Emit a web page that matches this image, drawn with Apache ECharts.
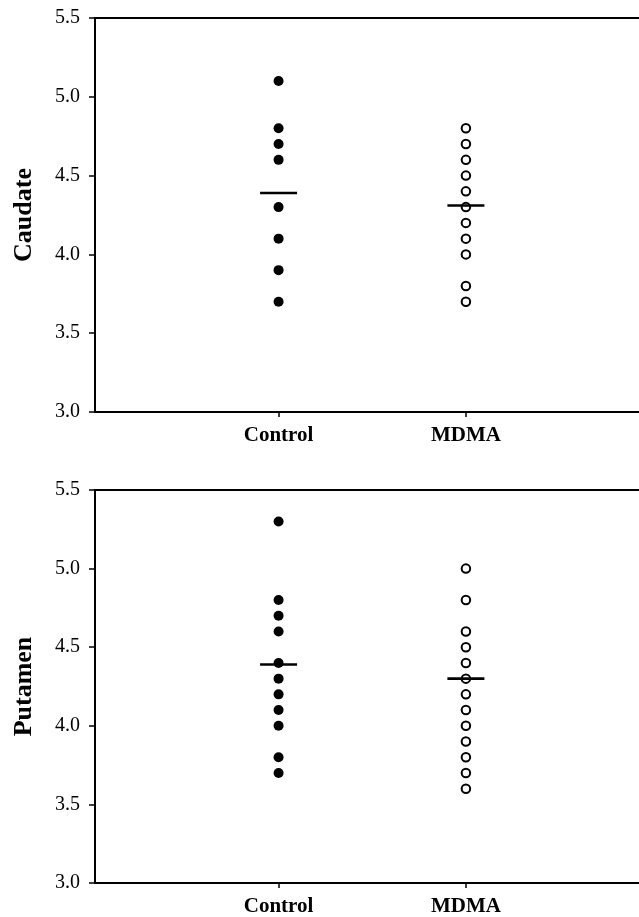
<!DOCTYPE html>
<html>
<head>
<meta charset="utf-8">
<script src="https://cdn.jsdelivr.net/npm/echarts@6/dist/echarts.min.js"></script>
<style>
html,body{margin:0;padding:0;background:#fff;}
#chart{width:639px;height:917px;}
</style>
</head>
<body>
<div id="chart"></div>
<script>
var categories = ['Control', 'MDMA'];
var panelNames = ['Caudate', 'Putamen'];
var yTickLabels = ['3.0', '3.5', '4.0', '4.5', '5.0', '5.5'];

var caudateControl = [5.1, 4.8, 4.7, 4.6, 4.3, 4.1, 3.9, 3.7];
var caudateMDMA = [4.8, 4.7, 4.6, 4.5, 4.4, 4.3, 4.2, 4.1, 4.0, 3.8, 3.7];
var caudateMeans = [4.39, 4.31];

var putamenControl = [5.3, 4.8, 4.7, 4.6, 4.4, 4.3, 4.2, 4.1, 4.0, 3.8, 3.7];
var putamenMDMA = [5.0, 4.8, 4.6, 4.5, 4.4, 4.3, 4.2, 4.1, 4.0, 3.9, 3.8, 3.7, 3.6];
var putamenMeans = [4.39, 4.30];

var panels = [
  {control: caudateControl, mdma: caudateMDMA, means: caudateMeans},
  {control: putamenControl, mdma: putamenMDMA, means: putamenMeans}
];

var FONT = 'Liberation Serif';
var tops = [18, 490];
var gridH = 394;
var xMin = 0.02, xMax = 2.924;

var grids = [], xAxes = [], yAxes = [], series = [];
panels.forEach(function (p, i) {
  grids.push({left: 95, right: 0, top: tops[i], height: gridH});
  xAxes.push({
    type: 'value', gridIndex: i, min: xMin, max: xMax, position: 'bottom',
    axisLine: {show: true, onZero: false, lineStyle: {color: '#000', width: 2}},
    axisTick: {show: true, customValues: [1, 2], length: 5, lineStyle: {color: '#000', width: 1.5}},
    axisLabel: {show: true, customValues: [1, 2], margin: 13, color: '#000',
      fontFamily: FONT, fontWeight: 'bold', fontSize: 21,
      formatter: function (v) { return categories[Math.round(v) - 1] || ''; }},
    splitLine: {show: false}
  });
  xAxes.push({
    type: 'value', gridIndex: i, min: xMin, max: xMax, position: 'top',
    axisLine: {show: true, onZero: false, lineStyle: {color: '#000', width: 2}},
    axisTick: {show: false}, axisLabel: {show: false}, splitLine: {show: false}
  });
  yAxes.push({
    type: 'value', gridIndex: i, min: 3, max: 5.5, interval: 0.5,
    name: panelNames[i], nameLocation: 'middle', nameGap: 58, nameRotate: 90,
    nameTextStyle: {fontFamily: FONT, fontWeight: 'bold', fontSize: 26, color: '#000'},
    axisLine: {show: true, onZero: false, lineStyle: {color: '#000', width: 2}},
    axisTick: {show: true, length: 6, lineStyle: {color: '#000', width: 1.5}},
    axisLabel: {margin: 15, color: '#000', fontFamily: FONT, fontSize: 20,
      formatter: function (v) { return yTickLabels[Math.round((v - 3) / 0.5)]; }},
    splitLine: {show: false}
  });
  series.push({
    type: 'scatter', xAxisIndex: 2 * i, yAxisIndex: i,
    symbol: 'circle', symbolSize: 10,
    itemStyle: {color: '#000', opacity: 1},
    data: p.control.map(function (v) { return [1, v]; }), z: 2
  });
  series.push({
    type: 'scatter', xAxisIndex: 2 * i, yAxisIndex: i,
    symbol: 'circle', symbolSize: 8.5,
    itemStyle: {color: '#fff', borderColor: '#000', borderWidth: 2, opacity: 1},
    data: p.mdma.map(function (v) { return [2, v]; }), z: 2
  });
  series.push({
    type: 'scatter', xAxisIndex: 2 * i, yAxisIndex: i,
    symbol: 'rect', symbolSize: [37, 2.6],
    itemStyle: {color: '#000', opacity: 1},
    data: p.means.map(function (v, k) { return [k + 1, v]; }), z: 5
  });
});

var chart = echarts.init(document.getElementById('chart'), null, {renderer: 'canvas'});
chart.setOption({
  animation: false,
  backgroundColor: '#fff',
  grid: grids, xAxis: xAxes, yAxis: yAxes, series: series
});
</script>
</body>
</html>
